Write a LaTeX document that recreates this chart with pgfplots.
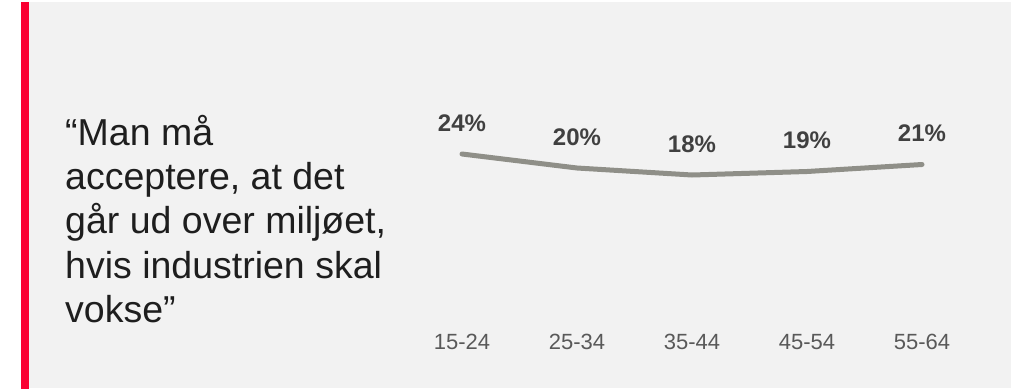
\documentclass[border=0pt]{standalone}
\usepackage{pgfplots}
\pgfplotsset{compat=1.18}
\usepackage{fontspec}
\setmainfont{Liberation Sans}
\definecolor{panel}{HTML}{F2F2F2}
\definecolor{redbar}{HTML}{FA0032}
\definecolor{linegray}{HTML}{8F8F88}
\definecolor{lbl}{HTML}{404040}
\definecolor{tick}{HTML}{595959}
\definecolor{quote}{HTML}{1E1E1E}
\begin{document}
\begin{tikzpicture}[x=1bp,y=1bp]
\path[use as bounding box, fill=white] (0,0) rectangle (1013,391);
\fill[panel] (29,3) rectangle (1011,389);
\fill[redbar] (21,2) rectangle (29,389);
\begin{scope}[every node/.style={anchor=base west, inner sep=0pt, text=quote, font=\fontsize{37.5bp}{44bp}\selectfont}]
\node at (65,{391-145}) {“Man må};
\node at (65,{391-189.5}) {acceptere, at det};
\node at (65,{391-233.5}) {går ud over miljøet,};
\node at (65,{391-278}) {hvis industrien skal};
\node at (65,{391-322}) {vokse”};
\end{scope}
\coordinate (A) at (404.5,65.5);
\begin{axis}[
  at={(A)}, anchor=south west,
  scale only axis, width=575bp, height=192.5bp,
  xmin=-0.5, xmax=4.5, ymin=-25, ymax=30,
  clip=false,
  axis line style={draw=none},
  tick style={draw=none},
  ytick=\empty,
  xtick={0,1,2,3,4},
  xticklabels={15-24,25-34,35-44,45-54,55-64},
  xticklabel style={text=tick, font=\fontsize{22bp}{26bp}\selectfont, yshift=-5bp},
  /pgf/number format/assume math mode=true,
]
\addplot[linegray, line width=5bp, line join=round, line cap=round,
  nodes near coords={\pgfmathprintnumber{\pgfplotspointmeta}\%},
  every node near coord/.append style={anchor=center, yshift=31bp, text=lbl,
    font=\fontsize{24bp}{28bp}\selectfont\bfseries},
  point meta=y]
coordinates {(0,24) (1,20) (2,18) (3,19) (4,21)};
\end{axis}
\end{tikzpicture}
\end{document}
